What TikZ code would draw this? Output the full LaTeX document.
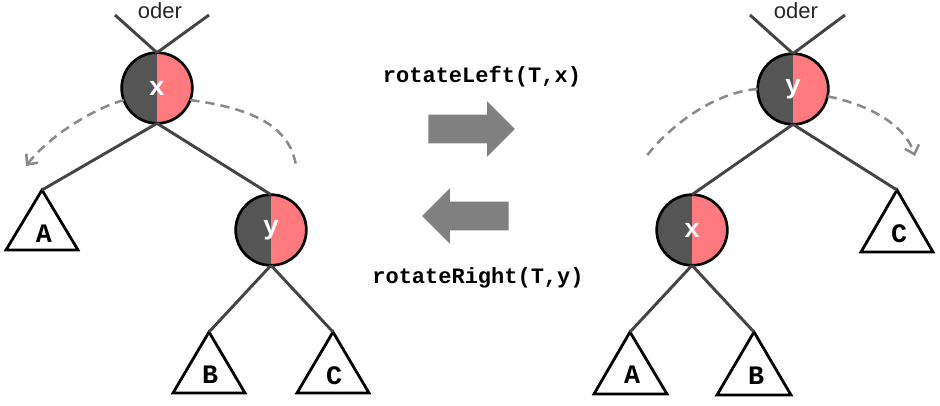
\documentclass[tikz,border=0pt]{standalone}
\usepackage{fontspec}
\setmainfont{Liberation Sans}
\newfontfamily\codefont{Liberation Mono}
\usepackage{xcolor}
\usetikzlibrary{positioning,shapes.arrows,arrows.meta}

\definecolor{darkhalf}{HTML}{555555}
\definecolor{redhalf}{HTML}{FF7A7E}
\definecolor{edgegray}{HTML}{444444}
\definecolor{dashgray}{HTML}{8A8A8A}
\definecolor{blockgray}{HTML}{808080}

\tikzset{
  rbnode/.style={circle, draw=black, line width=2pt, minimum size=53pt, inner sep=0pt, outer sep=0pt,
    text=white, font=\codefont\bfseries\fontsize{20pt}{22pt}\selectfont,
    path picture={
      \fill[darkhalf] (path picture bounding box.south west) rectangle (path picture bounding box.north);
      \fill[redhalf] (path picture bounding box.south) rectangle (path picture bounding box.north east);}},
  leaf/.style={font=\codefont\bfseries\fontsize{20pt}{22pt}\selectfont, inner sep=0pt},
  subtree/.style={draw=black, line width=2.1pt, line join=miter},
  branch/.style={draw=edgegray, line width=2.2pt},
  swing/.style={draw=dashgray, line width=1.9pt, dash pattern=on 7pt off 4.5pt},
  blockarrow/.style={single arrow, fill=blockgray, draw=none, minimum height=65pt, inner xsep=0pt, inner ysep=10.5pt,
    single arrow head extend=10.1pt, single arrow head indent=0pt, anchor=tail},
  code/.style={font=\codefont\bfseries\fontsize{16.5pt}{20pt}\selectfont, anchor=base, inner sep=0pt},
  oder/.style={font=\fontsize{16.5pt}{20pt}\selectfont, text=black!85, anchor=base, inner sep=0pt}
}

\begin{document}
\begin{tikzpicture}[x=0.75pt, y=-0.75pt]
  \useasboundingbox (0,0) rectangle (940,405);

  % left tree
  \node[rbnode] (LeX) at (157,88) {x};
  \node[rbnode] (LeY) at (271,230) {y};
  \node[oder] (LeOd) at (160,18) {oder};
  \coordinate (LeOdL) at (115,15);
  \coordinate (LeOdR) at (209,15);
  \draw[branch] (LeOdL) to (LeX.north);
  \draw[branch] (LeOdR) to (LeX.north);

  \coordinate (LeAt) at (42,190);
  \coordinate (LeBt) at (209,332);
  \coordinate (LeCt) at (333,332);
  \draw[subtree] (LeAt) -- ++(-36,60) -- ++(72,0) -- cycle;
  \draw[subtree] (LeBt) -- ++(-36,61) -- ++(72,0) -- cycle;
  \draw[subtree] (LeCt) -- ++(-36,61) -- ++(72,0) -- cycle;
  \node[leaf] (LeA) at (44,234) {A};
  \node[leaf] (LeB) at (210,375) {B};
  \node[leaf] (LeC) at (334,376) {C};

  \draw[branch] (LeX.south) to (LeAt);
  \draw[branch] (LeX.south) to (LeY.north);
  \draw[branch] (LeY.south) to (LeBt);
  \draw[branch] (LeY.south) to (LeCt);

  % %swing left
  \coordinate (LeSwL) at (26,166);
  \coordinate (LeSwR) at (296,166);
  \draw[swing,-{Straight Barb[length=6pt,width=11pt]}] (LeX.200) .. controls (95,108) and (50,135) .. (LeSwL);
  \draw[swing] (LeX.-20) .. controls (250,108) and (290,125) .. (LeSwR);

  % %rotations
  \node[code] (RoLeTx) at (482,82) {rotateLeft(T,x)};
  \node[blockarrow] (RoLe) at (428,129) {};
  \node[blockarrow, rotate=180] (RoRi) at (509,216) {};
  \node[code] (RoRiTx) at (478,283) {rotateRight(T,y)};

  % right tree
  \node[rbnode] (RiY) at (793,89) {y};
  \node[rbnode] (RiX) at (692,230) {x};
  \node[oder] (RiOd) at (796,18) {oder};
  \coordinate (RiOdL) at (750,15);
  \coordinate (RiOdR) at (845,15);
  \draw[branch] (RiOdL) to (RiY.north);
  \draw[branch] (RiOdR) to (RiY.north);

  \coordinate (RiCt) at (897,190);
  \coordinate (RiAt) at (630,332);
  \coordinate (RiBt) at (754,332);
  \draw[subtree] (RiCt) -- ++(-36,62) -- ++(72,0) -- cycle;
  \draw[subtree] (RiAt) -- ++(-36,62) -- ++(73,0) -- cycle;
  \draw[subtree] (RiBt) -- ++(-37,63) -- ++(74,0) -- cycle;
  \node[leaf] (RiC) at (899,234) {C};
  \node[leaf] (RiA) at (632,375) {A};
  \node[leaf] (RiB) at (756,376) {B};

  \draw[branch] (RiY.south) to (RiX.north);
  \draw[branch] (RiY.south) to (RiCt);
  \draw[branch] (RiX.south) to (RiAt);
  \draw[branch] (RiX.south) to (RiBt);

  % %swing right
  \coordinate (RiSwL) at (645,158);
  \coordinate (RiSwR) at (915,156);
  \draw[swing] (RiY.180) .. controls (715,92) and (670,125) .. (RiSwL);
  \draw[swing,-{Straight Barb[length=6pt,width=11pt]}] (RiY.-12) .. controls (870,105) and (905,125) .. (RiSwR);

\end{tikzpicture}
\end{document}
